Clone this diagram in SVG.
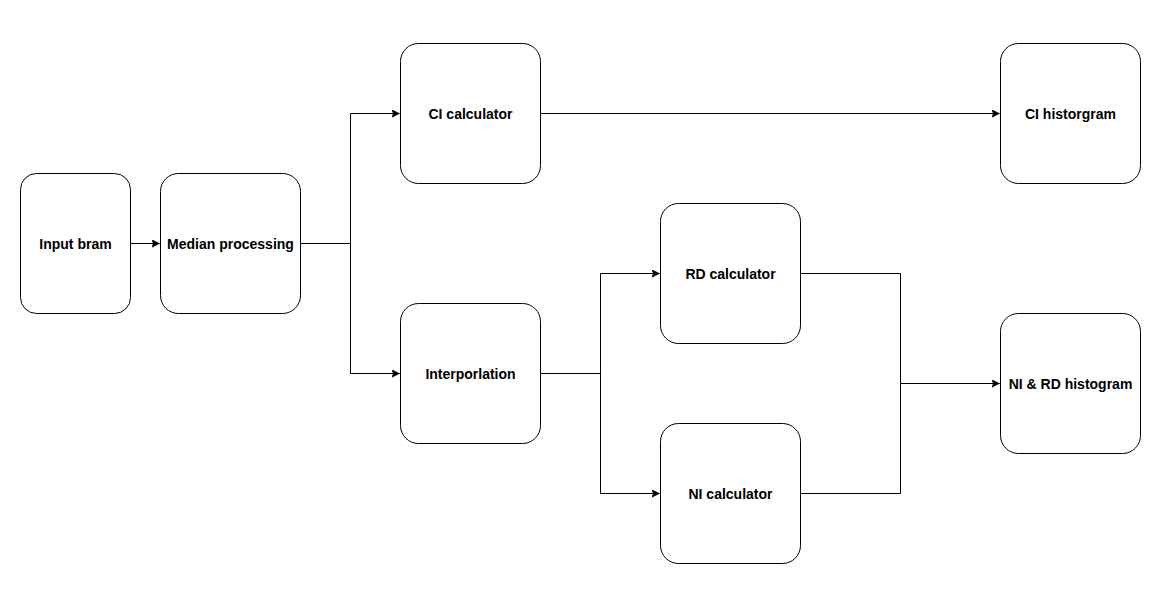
<svg xmlns="http://www.w3.org/2000/svg" width="1169" height="599" viewBox="0 0 1169 599">
<style>
.node rect{fill:#fff;stroke:#000;stroke-width:1}
.node text{font-family:"Liberation Sans",Arial,sans-serif;font-size:14px;font-weight:bold;fill:#000;text-anchor:middle;dominant-baseline:central}
.conn path{fill:none;stroke:#000;stroke-width:1}
</style>
<defs>
<marker id="arr" markerWidth="9" markerHeight="9" refX="8" refY="4" orient="auto" markerUnits="userSpaceOnUse">
<path d="M0,0 L8,4 L0,8 L2,4 Z" fill="#000" stroke="#000" stroke-width="0.5"/>
</marker>
</defs>
<rect width="1169" height="599" fill="#fff"/>
<g class="conn">
<path d="M130.5,243.5 H159.5" marker-end="url(#arr)"/>
<path d="M300.5,243.5 H350.5 V113.5 H399.5" marker-end="url(#arr)"/>
<path d="M350.5,243.5 V373.5 H399.5" marker-end="url(#arr)"/>
<path d="M540.5,113.5 H999.5" marker-end="url(#arr)"/>
<path d="M540.5,373.5 H600.5 V273.5 H659.5" marker-end="url(#arr)"/>
<path d="M600.5,373.5 V493.5 H659.5" marker-end="url(#arr)"/>
<path d="M800.5,273.5 H900.5 V383.5 H999.5" marker-end="url(#arr)"/>
<path d="M800.5,493.5 H900.5 V383.5"/>
</g>
<g id="input-bram" class="node"><rect x="20.5" y="173.5" width="110" height="140" rx="16" ry="16"/><text x="75.5" y="243.5">Input bram</text></g>
<g id="median-processing" class="node"><rect x="160.5" y="173.5" width="140" height="140" rx="18" ry="18"/><text x="230.5" y="243.5">Median processing</text></g>
<g id="ci-calculator" class="node"><rect x="400.5" y="43.5" width="140" height="140" rx="18" ry="18"/><text x="470.5" y="113.5">CI calculator</text></g>
<g id="interporlation" class="node"><rect x="400.5" y="303.5" width="140" height="140" rx="18" ry="18"/><text x="470.5" y="373.5">Interporlation</text></g>
<g id="rd-calculator" class="node"><rect x="660.5" y="203.5" width="140" height="140" rx="18" ry="18"/><text x="730.5" y="273.5">RD calculator</text></g>
<g id="ni-calculator" class="node"><rect x="660.5" y="423.5" width="140" height="140" rx="18" ry="18"/><text x="730.5" y="493.5">NI calculator</text></g>
<g id="ci-historgram" class="node"><rect x="1000.5" y="43.5" width="140" height="140" rx="18" ry="18"/><text x="1070.5" y="113.5">CI historgram</text></g>
<g id="ni-rd-histogram" class="node"><rect x="1000.5" y="313.5" width="140" height="140" rx="18" ry="18"/><text x="1070.5" y="383.5">NI &amp; RD histogram</text></g>
</svg>
